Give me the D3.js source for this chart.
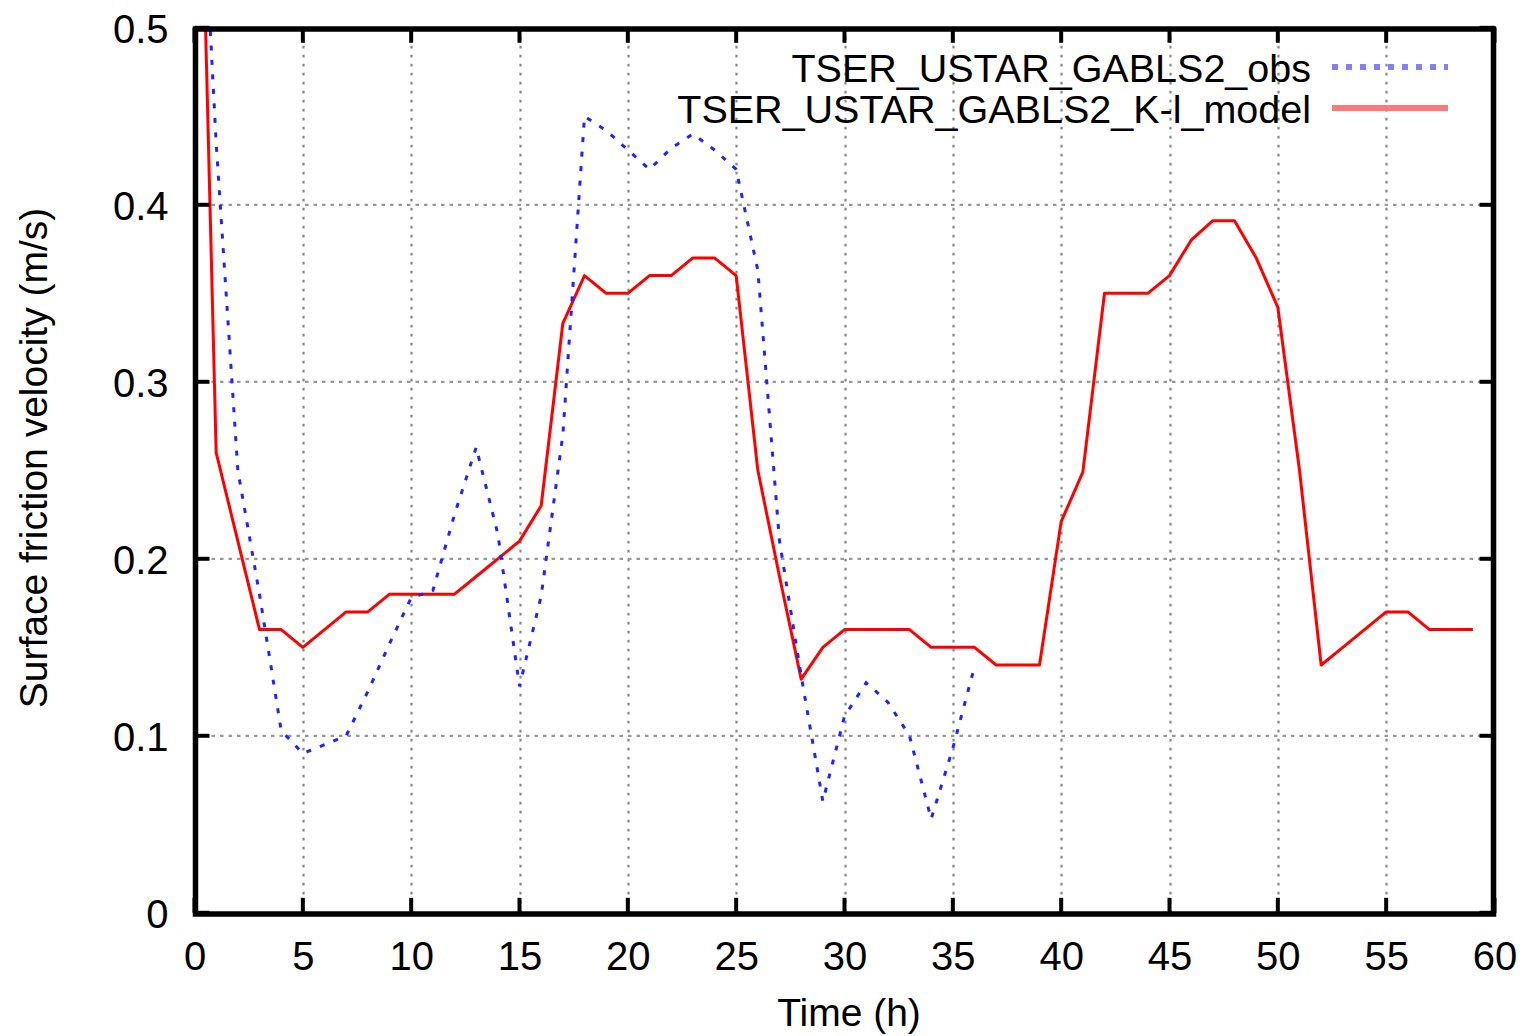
<!DOCTYPE html>
<html>
<head>
<meta charset="utf-8">
<script src="https://cdn.jsdelivr.net/npm/d3@7"></script>
<style>
  html, body { margin: 0; padding: 0; background: #ffffff; }
  svg { display: block; font-family: "Liberation Sans", Arial, Helvetica, sans-serif; }
</style>
</head>
<body>
<svg id="chart" width="1530" height="1036"></svg>
<script>
// Surface friction velocity time series, GABLS2 case (hours since start)
const hoursObs = [0, 1, 2, 3, 4, 5, 6, 7, 8, 9, 10, 11, 12, 13, 14, 15, 16, 17, 18,
  19, 20, 21, 22, 23, 24, 25, 26, 27, 28, 29, 30, 31, 32, 33, 34, 35, 36];
const ustarObs = [0.67, 0.435, 0.25, 0.18, 0.103, 0.09, 0.095, 0.10, 0.125, 0.152,
  0.178, 0.182, 0.225, 0.263, 0.214, 0.128, 0.179, 0.27, 0.45,
  0.442, 0.431, 0.42, 0.432, 0.44, 0.431, 0.42, 0.363, 0.21, 0.134, 0.063,
  0.111, 0.13, 0.119, 0.10, 0.053, 0.093, 0.139];

const hoursModel = [0, 1, 2, 3, 4, 5, 6, 7, 8, 9, 10, 11, 12, 13, 14, 15, 16, 17, 18, 19,
  20, 21, 22, 23, 24, 25, 26, 27, 28, 29, 30, 31, 32, 33, 34, 35, 36, 37, 38, 39,
  40, 41, 42, 43, 44, 45, 46, 47, 48, 49, 50, 51, 52, 53, 54, 55, 56, 57, 58, 59];
const ustarModel = [0.75, 0.26, 0.21, 0.16, 0.16, 0.15, 0.16, 0.17, 0.17, 0.18,
  0.18, 0.18, 0.18, 0.19, 0.20, 0.21, 0.23, 0.333, 0.36, 0.35,
  0.35, 0.36, 0.36, 0.37, 0.37, 0.36, 0.25, 0.19, 0.132, 0.15,
  0.16, 0.16, 0.16, 0.16, 0.15, 0.15, 0.15, 0.14, 0.14, 0.14,
  0.221, 0.249, 0.35, 0.35, 0.35, 0.36, 0.38, 0.391, 0.391, 0.37,
  0.342, 0.25, 0.14, 0.15, 0.16, 0.17, 0.17, 0.16, 0.16, 0.16];

const xTickValues = [0, 5, 10, 15, 20, 25, 30, 35, 40, 45, 50, 55, 60];
const yTickValues = [0, 0.1, 0.2, 0.3, 0.4, 0.5];
const yTickLabels = ["0", "0.1", "0.2", "0.3", "0.4", "0.5"];
const seriesNames = ["TSER_USTAR_GABLS2_obs", "TSER_USTAR_GABLS2_K-l_model"];
const xTitle = "Time (h)";
const yTitle = "Surface friction velocity (m/s)";

const svg = d3.select("#chart");

const x = d3.scaleLinear().domain([0, 60]).range([194.5, 1494.5]);
const y = d3.scaleLinear().domain([0, 0.5]).range([912.8, 27.8]);

const [xl, xr] = x.range();
const [yb, yt] = y.range();

svg.append("defs").append("clipPath").attr("id", "plotClip")
  .append("rect")
  .attr("x", xl).attr("y", yt)
  .attr("width", xr - xl).attr("height", yb - yt);

// grid
const grid = svg.append("g").attr("class", "grid");
grid.selectAll("line.vx")
  .data(xTickValues.filter(v => v > 0 && v < 60))
  .join("line").attr("class", "vx")
  .attr("x1", d => Math.round(x(d)) + 0.5).attr("x2", d => Math.round(x(d)) + 0.5)
  .attr("y1", yt).attr("y2", yb)
  .attr("stroke", "#888").attr("stroke-width", 2.2)
  .attr("stroke-dasharray", "2.8 6.2");
grid.selectAll("line.hy")
  .data(yTickValues.filter(v => v > 0 && v < 0.5))
  .join("line").attr("class", "hy")
  .attr("y1", d => y(d)).attr("y2", d => y(d))
  .attr("x1", xl).attr("x2", xr)
  .attr("stroke", "#999").attr("stroke-width", 2.2)
  .attr("stroke-dasharray", "3.5 5");

// data
const plot = svg.append("g").attr("clip-path", "url(#plotClip)");
const line = d3.line().x(d => x(d[0])).y(d => y(d[1]));

plot.append("path")
  .datum(hoursModel.map((h, i) => [h, ustarModel[i]]))
  .attr("d", line)
  .attr("fill", "none")
  .attr("stroke", "#ff0000")
  .attr("stroke-width", 3)
  .attr("stroke-linejoin", "round");

plot.append("path")
  .datum(hoursObs.map((h, i) => [h, ustarObs[i]]))
  .attr("d", line)
  .attr("fill", "none")
  .attr("stroke", "#2222ff")
  .attr("stroke-width", 3)
  .attr("stroke-dasharray", "5 9.5");

// tick marks pointing inward on all four sides
const tickLen = 15;
const ticks = svg.append("g").attr("stroke", "#000").attr("stroke-width", 4);
xTickValues.forEach(v => {
  ticks.append("line").attr("x1", x(v)).attr("x2", x(v)).attr("y1", yb).attr("y2", yb - tickLen);
  ticks.append("line").attr("x1", x(v)).attr("x2", x(v)).attr("y1", yt).attr("y2", yt + tickLen);
});
yTickValues.forEach(v => {
  ticks.append("line").attr("y1", y(v)).attr("y2", y(v)).attr("x1", xl).attr("x2", xl + tickLen);
  ticks.append("line").attr("y1", y(v)).attr("y2", y(v)).attr("x1", xr).attr("x2", xr - tickLen);
});

// frame
svg.append("rect")
  .attr("x", xl + 1).attr("y", yt + 1.2)
  .attr("width", xr - xl - 2).attr("height", yb - yt)
  .attr("fill", "none").attr("stroke", "#000").attr("stroke-width", 5.5);

// axes (labels only)
const xAxis = d3.axisBottom(x).tickValues(xTickValues).tickFormat(d3.format("d"))
  .tickSize(0).tickPadding(29);
const gx = svg.append("g").attr("transform", `translate(0,${yb})`).call(xAxis);
gx.select(".domain").remove();
gx.selectAll("text").attr("font-size", 40).attr("fill", "#000")
  .attr("font-family", "Liberation Sans, Arial, sans-serif");

const yAxis = d3.axisLeft(y).tickValues(yTickValues)
  .tickFormat((d, i) => yTickLabels[i]).tickSize(0).tickPadding(26);
const gy = svg.append("g").attr("transform", `translate(${xl},0)`).call(yAxis);
gy.select(".domain").remove();
gy.selectAll("text").attr("font-size", 40).attr("fill", "#000").attr("dy", "0.37em")
  .attr("font-family", "Liberation Sans, Arial, sans-serif");

// axis titles
svg.append("text")
  .attr("x", 849).attr("y", 1026)
  .attr("text-anchor", "middle").attr("font-size", 39).attr("fill", "#000")
  .text(xTitle);
svg.append("text")
  .attr("transform", "translate(47,458) rotate(-90)")
  .attr("text-anchor", "middle").attr("font-size", 39).attr("fill", "#000")
  .text(yTitle);

// legend
const legend = svg.append("g");
const legendRows = [
  { name: seriesNames[0], baseline: 81.5, lineY: 67, stroke: "#7f7fff", dash: "6 8" },
  { name: seriesNames[1], baseline: 123.3, lineY: 108, stroke: "#ff7878", dash: null }
];
legendRows.forEach(r => {
  legend.append("text")
    .attr("x", 1311).attr("y", r.baseline)
    .attr("text-anchor", "end").attr("font-size", 39.5).attr("fill", "#000")
    .text(r.name);
  const l = legend.append("line")
    .attr("x1", 1332).attr("x2", 1448)
    .attr("y1", r.lineY).attr("y2", r.lineY)
    .attr("stroke", r.stroke).attr("stroke-width", 6);
  if (r.dash) l.attr("stroke-dasharray", r.dash);
});
</script>
</body>
</html>
